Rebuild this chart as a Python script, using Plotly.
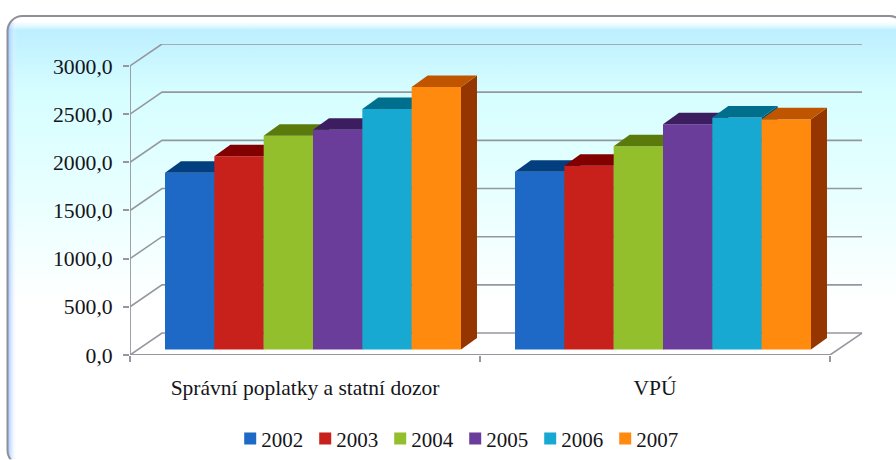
import base64
import plotly.graph_objects as go

# --- data ---
categories = ["Správní poplatky a statní dozor", "VPÚ"]
years = ["2002", "2003", "2004", "2005", "2006", "2007"]
v2002 = [1834, 1845]
v2003 = [2005, 1907]
v2004 = [2218, 2109]
v2005 = [2280, 2337]
v2006 = [2497, 2409]
v2007 = [2725, 2389]
y_ticks = [0, 500, 1000, 1500, 2000, 2500, 3000]
y_labels = ["0,0", "500,0", "1000,0", "1500,0", "2000,0", "2500,0", "3000,0"]

series = [v2002, v2003, v2004, v2005, v2006, v2007]
front = ["#1F69C6", "#C8201A", "#93BF2C", "#6A3D9A", "#17A9D2", "#FF8A0E"]
top = ["#033E7F", "#820000", "#5A7A0C", "#3C1E60", "#006F8E", "#C05500"]
side = ["#022F60", "#660000", "#455E08", "#2E1649", "#00566E", "#953600"]

# --- page geometry (pixels) ---
W, H = 896, 460
L, R, T, B = 130, 863, 44, 355.5
PX_X = 350.0            # px per category
PX_Y = (B - 66) / 3000  # px per value unit
WALL_DX, WALL_DY = 32 / PX_X, 22 / PX_Y
BASE_DX, BASE_DY = 8 / PX_X, 5.5 / PX_Y
DEPTH_DX, DEPTH_DY = 16 / PX_X, 11.5 / PX_Y
BAR_W = 49.33 / PX_X
GRID = "#96979E"
FONT = "Liberation Serif"
TXT = "#15151A"

svg = f'''<svg xmlns="http://www.w3.org/2000/svg" width="{W}" height="{H}" viewBox="0 0 {W} {H}">
<defs>
<linearGradient id="g" x1="0" y1="0" x2="0" y2="1">
<stop offset="0" stop-color="#FFFFFF"/><stop offset="0.012" stop-color="#FFFFFF"/>
<stop offset="0.022" stop-color="#E2FAFF"/><stop offset="0.032" stop-color="#BDEFFF"/>
<stop offset="0.17" stop-color="#D6FEFF"/><stop offset="0.40" stop-color="#E8FFFF"/>
<stop offset="0.64" stop-color="#FFFFFF"/><stop offset="1" stop-color="#FFFFFF"/></linearGradient>
<linearGradient id="e" x1="0" y1="0" x2="1" y2="0">
<stop offset="0" stop-color="#9CC4FF" stop-opacity="0.95"/><stop offset="1" stop-color="#FFFFFF" stop-opacity="0"/></linearGradient>
<clipPath id="c"><rect x="7.5" y="16" width="897" height="450" rx="15"/></clipPath>
</defs>
<rect width="{W}" height="{H}" fill="#FFFFFF"/>
<rect x="7.5" y="16" width="897" height="450" rx="15" fill="url(#g)"/>
<rect x="8" y="22" width="9" height="440" fill="url(#e)" clip-path="url(#c)"/>
<rect x="7.5" y="16" width="897" height="450" rx="15" fill="none" stroke="#8F8F98" stroke-width="2"/>
</svg>'''
bg = "data:image/svg+xml;base64," + base64.b64encode(svg.encode()).decode()

fig = go.Figure()


def line(xs, ys, width=1.6):
    fig.add_trace(go.Scatter(x=xs, y=ys, mode="lines", showlegend=False, hoverinfo="skip",
                             cliponaxis=False, line=dict(color=GRID, width=width)))


# back wall gridlines and floor
for v in y_ticks:
    line([0, WALL_DX, 2 + WALL_DX], [v, v + WALL_DY, v + WALL_DY])
line([2, 2 + WALL_DX], [0, WALL_DY])
line([0, 0], [0, 3000], 1.8)
line([0, 2], [0, 0], 2)

# bars: each series on its own overlaid axes so that it paints over the one to its left
layout_axes = {}
for i, (name, vals) in enumerate(zip(years, series)):
    n = i + 2
    xa, ya = f"x{n}", f"y{n}"
    layout_axes[f"xaxis{n}"] = dict(matches="x", overlaying="x", visible=False, anchor=ya)
    layout_axes[f"yaxis{n}"] = dict(matches="y", overlaying="y", visible=False, anchor=xa)
    xs = [g + 0.5 + BASE_DX + (i - 2.5) * BAR_W for g in range(len(categories))]
    fig.add_trace(go.Bar(x=xs, y=vals, base=BASE_DY, width=BAR_W, name=name, marker=dict(color=front[i], line_width=0),
                         xaxis=xa, yaxis=ya, hoverinfo="skip"))
    for cx, v in zip(xs, vals):
        x0, x1 = cx - BAR_W / 2, cx + BAR_W / 2
        ytop = BASE_DY + v
        fig.add_trace(go.Scatter(
            x=[x1, x1 + DEPTH_DX, x1 + DEPTH_DX, x1, x1],
            y=[BASE_DY, BASE_DY + DEPTH_DY, ytop + DEPTH_DY, ytop, BASE_DY],
            fill="toself", fillcolor=side[i], mode="lines", line_width=0,
            showlegend=False, hoverinfo="skip", xaxis=xa, yaxis=ya))
        fig.add_trace(go.Scatter(
            x=[x0, x1, x1 + DEPTH_DX, x0 + DEPTH_DX, x0],
            y=[ytop, ytop, ytop + DEPTH_DY, ytop + DEPTH_DY, ytop],
            fill="toself", fillcolor=top[i], mode="lines", line_width=0,
            showlegend=False, hoverinfo="skip", xaxis=xa, yaxis=ya))

fig.update_layout(
    width=W, height=H, autosize=False,
    margin=dict(l=L, r=W - R, t=T, b=H - B, pad=0),
    paper_bgcolor="rgba(0,0,0,0)", plot_bgcolor="rgba(0,0,0,0)",
    barmode="overlay", hovermode=False,
    font=dict(family=FONT, color=TXT, size=20),
    xaxis=dict(range=[0, (R - L) / PX_X], tickmode="array", tickvals=[g + 0.5 for g in range(len(categories))],
               ticktext=categories, ticks="", showgrid=False, zeroline=False, showline=False,
               tickfont=dict(family=FONT, size=21.5, color=TXT), ticklabelstandoff=17,
               minor=dict(tickmode="array", tickvals=[0, 1, 2], ticks="outside", ticklen=6, tickwidth=1.5,
                          tickcolor=GRID, showgrid=False)),
    yaxis=dict(range=[0, (B - T) / PX_Y], tickmode="array", tickvals=y_ticks, ticktext=y_labels,
               ticks="outside", ticklen=6, tickwidth=1.5, tickcolor=GRID, showgrid=False, zeroline=False,
               showline=False, tickfont=dict(family=FONT, size=21.7, color=TXT), ticklabelstandoff=6),
    legend=dict(orientation="h", x=0.498, xanchor="center", xref="container", y=0.046, yanchor="middle", yref="container",
                font=dict(family=FONT, size=21, color=TXT), bgcolor="rgba(0,0,0,0)",
                entrywidth=30, entrywidthmode="pixels", itemclick=False, itemdoubleclick=False),
    images=[dict(source=bg, xref="paper", yref="paper", x=-L / (R - L), y=1 + T / (B - T),
                 sizex=W / (R - L), sizey=H / (B - T), sizing="stretch", layer="below",
                 xanchor="left", yanchor="top")],
    **layout_axes,
)

post = """
document.body.style.margin='0';document.documentElement.style.overflow='hidden';
(function(){
  var gd=document.getElementById('{plot_id}');
  function tidy(){
    gd.querySelectorAll('.legend .scrollbox').forEach(function(e){e.removeAttribute('clip-path');});
    gd.querySelectorAll('.legend').forEach(function(e){e.style.overflow='visible';});
    gd.querySelectorAll('.legend .legendsymbols').forEach(function(e){e.style.transform='translate(9px,0)';});
  }
  tidy(); if(gd.on){gd.on('plotly_afterplot',tidy);} setTimeout(tidy,30);
})();
"""
fig.write_html("out.html", config=dict(displayModeBar=False), post_script=post)
